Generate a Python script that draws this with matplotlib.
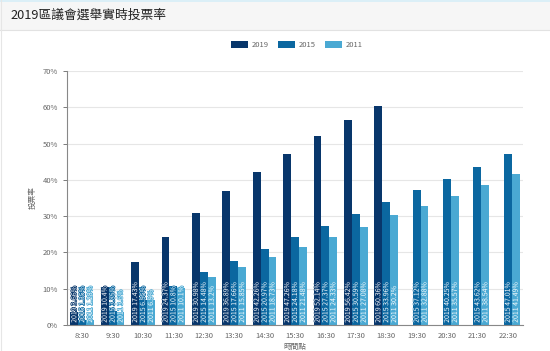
import matplotlib
matplotlib.use("Agg")
import matplotlib.pyplot as plt
import matplotlib.patheffects as pe
from matplotlib.patches import Rectangle
import numpy as np

plt.rcParams['font.family'] = ['Noto Sans CJK TC', 'DejaVu Sans']

# data
times = ['8:30', '9:30', '10:30', '11:30', '12:30', '13:30', '14:30', '15:30',
         '16:30', '17:30', '18:30', '19:30', '20:30', '21:30', '22:30']
rate_2019 = [3.66, 10.4, 17.43, 24.37, 30.98, 36.89, 42.26, 47.26, 52.14, 56.42, 60.36,
             None, None, None, None]
rate_2015 = [1.35, 3.85, 6.95, 10.8, 14.48, 17.66, 20.97, 24.18, 27.37, 30.59, 33.96,
             37.12, 40.25, 43.62, 47.01]
rate_2011 = [1.28, 3.6, 6.9, 10.1, 13.2, 15.85, 18.73, 21.48, 24.33, 27.08, 30.2,
             32.88, 35.57, 38.54, 41.49]
series_names = ['2019', '2015', '2011']
colors = ['#08366b', '#0b67a0', '#4aa9d3']

fig = plt.figure(figsize=(5.5, 3.51), dpi=100)
fig.patch.set_facecolor('white')

# header bar
fig.patches.append(Rectangle((0, 1 - 30 / 351), 1, 30 / 351, transform=fig.transFigure,
                             facecolor='#f6f6f6', edgecolor='none', zorder=0))
fig.add_artist(plt.Line2D([0, 1], [1 - 30 / 351] * 2, color='#e2e2e2', lw=0.8))
fig.add_artist(plt.Line2D([0, 1], [0.998, 0.998], color='#d6eef8', lw=1.2))
fig.add_artist(plt.Line2D([0.002, 0.002], [0, 1], color='#e6e6e6', lw=0.8))
fig.text(10 / 550, 1 - 15 / 351, '2019區議會選舉實時投票率', fontsize=9.2,
         color='#222222', va='center', ha='left')

ax = fig.add_axes([67 / 550, 1 - 325 / 351, 456 / 550, 254 / 351])

x = np.arange(len(times))
w = 0.26
all_series = [rate_2019, rate_2015, rate_2011]
for i, (name, vals, c) in enumerate(zip(series_names, all_series, colors)):
    off = (i - 1) * w
    xs = [xi + off for xi, v in zip(x, vals) if v is not None]
    vs = [v for v in vals if v is not None]
    ax.bar(xs, vs, width=w, color=c, label=name, zorder=2)
    for xi, v in zip(xs, vs):
        ax.text(xi, 0.6, f'{name} {v:g}%', rotation=90, ha='center', va='bottom',
                fontsize=5, color='white', zorder=3,
                path_effects=[pe.withStroke(linewidth=1.0, foreground=c)])

ax.set_xlim(-0.5, len(times) - 0.5)
ax.set_ylim(0, 70)
ax.set_yticks(np.arange(0, 71, 10))
ax.set_yticklabels([f'{t}%' for t in range(0, 71, 10)])
ax.set_xticks(x)
ax.set_xticklabels(times)
ax.tick_params(axis='both', labelsize=5.5, colors='#666666', length=3, width=0.6)
ax.tick_params(axis='x', length=0, pad=5)
ax.grid(axis='y', color='#e6e6e6', lw=0.8, zorder=0)
for s in ['top', 'right']:
    ax.spines[s].set_visible(False)
for s in ['left', 'bottom']:
    ax.spines[s].set_color('#888888')
    ax.spines[s].set_linewidth(0.8)
ax.set_xlabel('時間點', fontsize=5.5, color='#666666', labelpad=2)
ax.set_ylabel('投票率', fontsize=5.5, color='#666666', labelpad=2)
ax.yaxis.set_label_coords(-30 / 456, 0.5)

leg = fig.legend(loc='center', bbox_to_anchor=(0.54, 1 - 45 / 351), ncol=3,
                 frameon=False, fontsize=5.5, handlelength=2.2, handleheight=1.0,
                 columnspacing=1.2, handletextpad=0.5)
for t in leg.get_texts():
    t.set_color('#666666')

fig.savefig('out.png', dpi=100)
